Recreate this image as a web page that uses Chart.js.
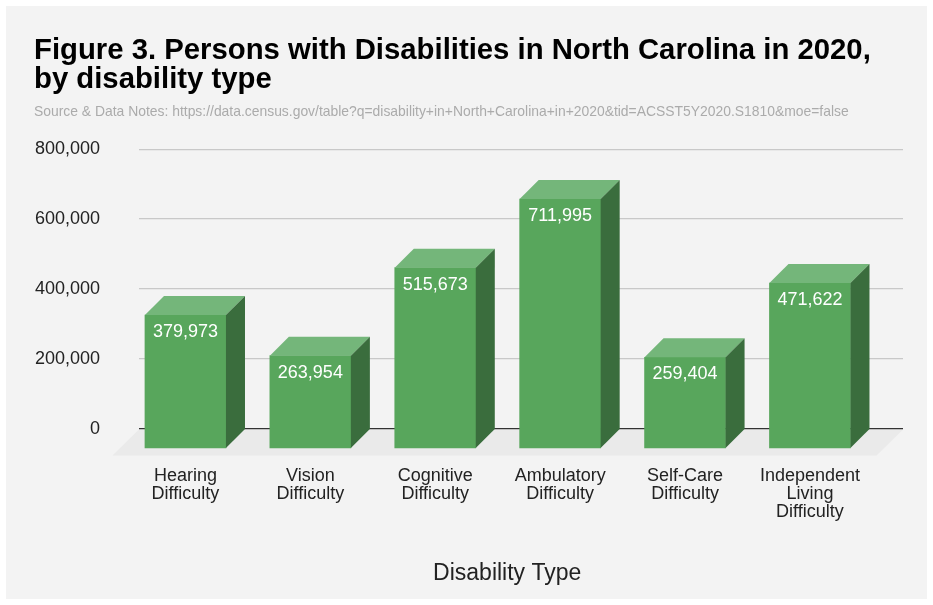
<!DOCTYPE html>
<html><head><meta charset="utf-8">
<script src="https://cdn.jsdelivr.net/npm/chart.js@4.4.1/dist/chart.umd.min.js"></script>
<style>html,body{margin:0;padding:0;background:#fff;}canvas{display:block;}</style>
</head><body>
<canvas id="c" width="933" height="605"></canvas>
<script>
// ---- data ----
const categories = [
  ['Hearing', 'Difficulty'],
  ['Vision', 'Difficulty'],
  ['Cognitive', 'Difficulty'],
  ['Ambulatory', 'Difficulty'],
  ['Self-Care', 'Difficulty'],
  ['Independent', 'Living', 'Difficulty']
];
const values = [379973, 263954, 515673, 711995, 259404, 471622];
const yTicks = [0, 200000, 400000, 600000, 800000];
const titleLines = ['Figure 3. Persons with Disabilities in North Carolina in 2020,', 'by disability type'];
const sourceNote = 'Source & Data Notes: https://data.census.gov/table?q=disability+in+North+Carolina+in+2020&tid=ACSST5Y2020.S1810&moe=false';
const xAxisTitle = 'Disability Type';

// ---- style ----
const FONT = '"Liberation Sans", Arial, Helvetica, sans-serif';
const frontColor = '#58a65c';
const topColor = '#74b67a';
const sideColor = '#3a6d3d';
const depthFrac = 0.068;
const fmt = v => v.toLocaleString('en-US');

Chart.defaults.font.family = FONT;

const yMin = yTicks[0], yMax = yTicks[yTicks.length - 1];
const depthVal = (yMax - yMin) * depthFrac;

const bgPlugin = {
  id: 'bg',
  beforeDraw(chart) {
    const c = chart.ctx, a = chart.chartArea;
    c.save();
    c.fillStyle = '#ffffff';
    c.fillRect(0, 0, chart.width, chart.height);
    c.fillStyle = '#f3f3f3';
    c.fillRect(6, 6, chart.width - 12, chart.height - 12);
    const y0 = chart.scales.y.getPixelForValue(0);
    const f = 26.5;
    c.fillStyle = '#eaeaea';
    c.beginPath();
    c.moveTo(a.left, y0 + 0.5);
    c.lineTo(a.right, y0 + 0.5);
    c.lineTo(a.right - f, y0 + f);
    c.lineTo(a.left - f, y0 + f);
    c.closePath();
    c.fill();
    c.restore();
  }
};

const bars3dPlugin = {
  id: 'bars3d',
  afterDatasetsDraw(chart) {
    const c = chart.ctx;
    const meta = chart.getDatasetMeta(0);
    const D = chart.scales.yb.getPixelForValue(0) - chart.scales.y.getPixelForValue(0);
    c.save();
    meta.data.forEach((bar, i) => {
      const p = bar.getProps(['x', 'y', 'base', 'width'], true);
      const l = p.x - p.width / 2, r = p.x + p.width / 2, t = p.y, b = p.base;
      c.fillStyle = topColor;
      c.beginPath();
      c.moveTo(l, t); c.lineTo(l + D, t - D); c.lineTo(r + D, t - D); c.lineTo(r, t);
      c.closePath(); c.fill();
      c.fillStyle = sideColor;
      c.beginPath();
      c.moveTo(r, t); c.lineTo(r + D, t - D); c.lineTo(r + D, b - D); c.lineTo(r, b);
      c.closePath(); c.fill();
      c.fillStyle = '#ffffff';
      c.font = '18px ' + FONT;
      c.textAlign = 'center';
      c.textBaseline = 'middle';
      c.fillText(fmt(values[i]), p.x, t + 17);
    });
    c.restore();
  }
};

const axisTitlePlugin = {
  id: 'axisTitle',
  afterDraw(chart) {
    const c = chart.ctx, a = chart.chartArea;
    const meta = chart.getDatasetMeta(0);
    const D = chart.scales.yb.getPixelForValue(0) - chart.scales.y.getPixelForValue(0);
    const first = meta.data[0].x, last = meta.data[meta.data.length - 1].x;
    c.save();
    c.fillStyle = '#222222';
    c.font = '23px ' + FONT;
    c.textAlign = 'center';
    c.textBaseline = 'middle';
    c.fillText(xAxisTitle, (first + last) / 2 + D / 2, a.bottom + 145);
    c.restore();
  }
};

new Chart(document.getElementById('c'), {
  type: 'bar',
  data: {
    datasets: [{
      data: values.map((v, i) => ({ x: i, y: [0, v] })),
      backgroundColor: frontColor,
      borderWidth: 0,
      barThickness: 81,
      xAxisID: 'x',
      yAxisID: 'yb',
      clip: false
    }]
  },
  options: {
    responsive: false,
    animation: false,
    devicePixelRatio: 1,
    layout: { padding: { left: 34, right: 30, top: 6, bottom: 6 } },
    plugins: {
      legend: { display: false },
      tooltip: { enabled: false },
      title: {
        display: true,
        text: titleLines,
        align: 'start',
        color: '#000000',
        font: { size: 29.3, weight: 'bold', lineHeight: '28.5px' },
        padding: { top: 31, bottom: 3 }
      },
      subtitle: {
        display: true,
        text: sourceNote,
        align: 'start',
        color: '#ababab',
        font: { size: 13.9, lineHeight: 1.2 },
        padding: { top: 7, bottom: 28.5 }
      }
    },
    scales: {
      x: {
        type: 'linear',
        position: 'bottom',
        offset: false,
        min: -0.372,
        max: 5.745,
        grid: { display: false, offset: false },
        border: { display: false },
        afterBuildTicks(scale) { scale.ticks = categories.map((_, i) => ({ value: i })); },
        afterFit(scale) { scale.height = 170; scale.paddingLeft = 0; scale.paddingRight = 0; },
        ticks: {
          autoSkip: false,
          maxRotation: 0,
          padding: 30,
          color: '#222222',
          font: { size: 18, lineHeight: 1.0 },
          callback: (v) => categories[v]
        }
      },
      y: {
        type: 'linear',
        position: 'left',
        min: yMin,
        max: yMax,
        afterBuildTicks(scale) { scale.ticks = yTicks.map(v => ({ value: v })); },
        afterFit(scale) { scale.width = 105; scale.paddingTop = 0; scale.paddingBottom = 0; },
        border: { display: false },
        grid: {
          drawTicks: false,
          color: ctx => (ctx.tick && ctx.tick.value === 0) ? '#333333' : '#c8c8c8',
          lineWidth: 1.3
        },
        ticks: {
          padding: 39,
          color: '#222222',
          font: { size: 18 },
          callback: v => fmt(v)
        }
      },
      yb: {
        type: 'linear',
        display: false,
        min: yMin + depthVal,
        max: yMax + depthVal
      }
    }
  },
  plugins: [bgPlugin, bars3dPlugin, axisTitlePlugin]
});
</script>
</body></html>
